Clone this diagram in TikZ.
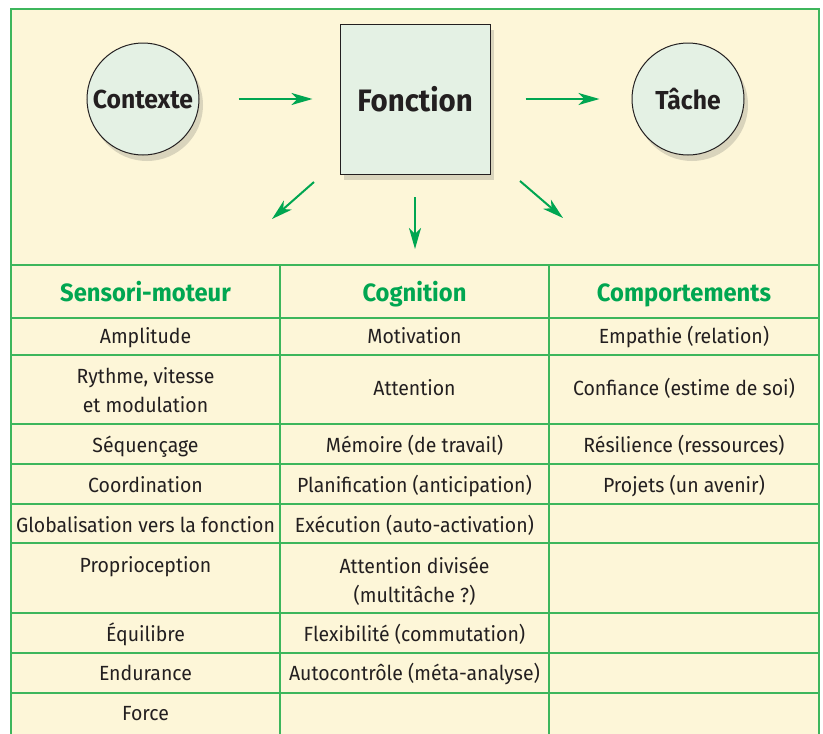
\documentclass[tikz,border=0pt]{standalone}
\usepackage{fontspec}
\setmainfont{Fira Sans}[FakeStretch=0.95]
\usetikzlibrary{arrows.meta,shadows}
\definecolor{creme}{HTML}{FDF6D8}
\definecolor{vertpale}{HTML}{E4F1E4}
\definecolor{vert}{HTML}{00A651}
\definecolor{trait}{HTML}{3DB65C}
\definecolor{encre}{HTML}{231F20}
\tikzset{
    ombre/.style={drop shadow={shadow xshift=4pt, shadow yshift=-6pt, opacity=0.2, fill=black!70}},
    bulle/.style={circle, draw=encre, line width=1pt, fill=vertpale, minimum size=112pt, inner sep=0pt, ombre, font=\bfseries\fontsize{26}{30}\selectfont, text=encre},
    carre/.style={rectangle, draw=encre, line width=1pt, fill=vertpale, minimum width=150pt, minimum height=150pt, inner sep=0pt, ombre, font=\bfseries\fontsize{31}{35}\selectfont, text=encre},
    fleche/.style={draw=vert, line width=2pt, -{Stealth[length=21pt,width=12pt,inset=6pt]}},
    entete/.style={anchor=base, font=\bfseries\fontsize{25}{29}\selectfont, text=vert},
    cellule/.style={anchor=base, align=center, font=\fontsize{20.5}{29}\selectfont, text=encre},
    grille/.style={draw=trait, line width=1.5pt}
}
\begin{document}
\begin{tikzpicture}[x=1pt, y=-1pt]
    \useasboundingbox (0,0) rectangle (823,734);
    \clip (0,0) rectangle (823,734);
    \draw[grille, fill=creme] (11,9) rectangle (819,745);

    \node[bulle] (ctx) at (143,99) {Contexte};
    \node[carre] (fct) at (415,99) {Fonction};
    \node[bulle] (tache) at (688,99) {Tâche};

    \draw[fleche, shorten <=39pt, shorten >=27pt] (ctx) -- (fct);
    \draw[fleche, shorten <=35pt, shorten >=32pt] (fct) -- (tache);

    \coordinate (gd) at (314,182);
    \coordinate (ga) at (272,219);
    \coordinate (md) at (415,197);
    \coordinate (ma) at (415,249);
    \coordinate (dd) at (520,181);
    \coordinate (da) at (563,218);
    \draw[fleche] (gd) -- (ga);
    \draw[fleche] (md) -- (ma);
    \draw[fleche] (dd) -- (da);

    \draw[grille] (11,265) -- (819,265);
    \foreach \y in {318,355,424,464,504,543,613,653,693}
        \draw[grille] (11,\y) -- (819,\y);
    \draw[grille] (280,265) -- (280,745);
    \draw[grille] (549,265) -- (549,745);

    \node[entete] (sm) at (145.5,301) {Sensori-moteur};
    \node[entete] (cg) at (414.5,301) {Cognition};
    \node[entete] (cp) at (684,301) {Comportements};

    \node[cellule] (sm1) at (145.5,343) {Amplitude};
    \node[cellule] (sm2) at (145.5,412) {Rythme, vitesse\\et modulation};
    \node[cellule] (sm3) at (145.5,452) {Séquençage};
    \node[cellule] (sm4) at (145.5,492) {Coordination};
    \node[cellule] (sm5) at (145.5,532) {Globalisation vers la fonction};
    \node[cellule] (sm6) at (145.5,572) {Proprioception};
    \node[cellule] (sm7) at (145.5,641) {Équilibre};
    \node[cellule] (sm8) at (145.5,680) {Endurance};
    \node[cellule] (sm9) at (145.5,720) {Force};

    \node[cellule] (cg1) at (414.5,343) {Motivation};
    \node[cellule] (cg2) at (414.5,395) {Attention};
    \node[cellule] (cg3) at (414.5,452) {Mémoire (de travail)};
    \node[cellule] (cg4) at (414.5,492) {Planification (anticipation)};
    \node[cellule] (cg5) at (414.5,532) {Exécution (auto-activation)};
    \node[cellule] (cg6) at (414.5,602) {Attention divisée\\(multitâche~?)};
    \node[cellule] (cg7) at (414.5,641) {Flexibilité (commutation)};
    \node[cellule] (cg8) at (414.5,680) {Autocontrôle (méta-analyse)};

    \node[cellule] (cp1) at (684,343) {Empathie (relation)};
    \node[cellule] (cp2) at (684,395) {Confiance (estime de soi)};
    \node[cellule] (cp3) at (684,452) {Résilience (ressources)};
    \node[cellule] (cp4) at (684,492) {Projets (un avenir)};
\end{tikzpicture}
\end{document}
